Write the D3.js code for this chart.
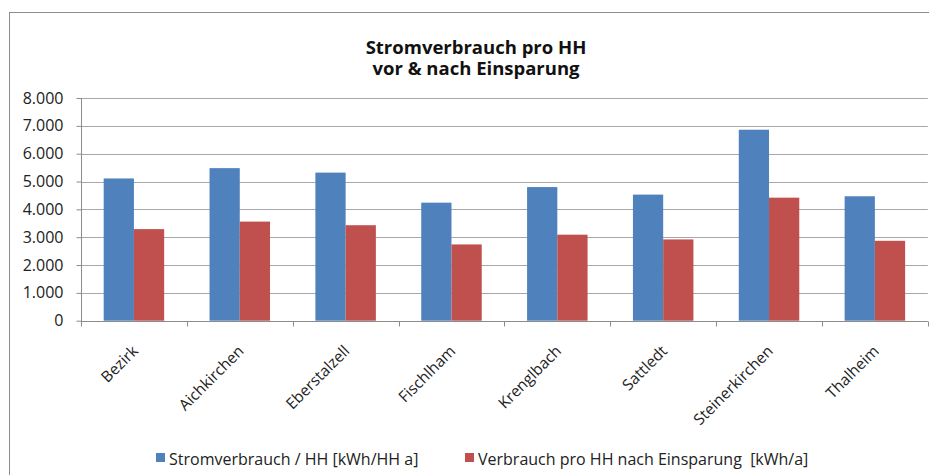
<!DOCTYPE html>
<html>
<head>
<meta charset="utf-8">
<script src="https://cdn.jsdelivr.net/npm/d3@7"></script>
<style>
  body { margin: 0; background: #fff; }
  svg { display: block; font-family: "Open Sans", sans-serif; }
</style>
</head>
<body>
<svg id="chart" width="929" height="475"></svg>
<script>
const categories = ["Bezirk", "Aichkirchen", "Eberstalzell", "Fischlham", "Krenglbach", "Sattledt", "Steinerkirchen", "Thalheim"];
const seriesNames = ["Stromverbrauch / HH [kWh/HH a]", "Verbrauch pro HH nach Einsparung  [kWh/a]"];
const vorher = [5110, 5480, 5320, 4240, 4800, 4530, 6860, 4470];
const nachher = [3290, 3560, 3430, 2740, 3090, 2920, 4420, 2870];
const yTicks = [0, 1000, 2000, 3000, 4000, 5000, 6000, 7000, 8000];
const titleLines = ["Stromverbrauch pro HH", "vor & nach Einsparung"];
const colors = ["#4f81bd", "#c0504d"];

const svg = d3.select("#chart");
const margin = { top: 98, left: 81, bottom: 320.7, right: 927.8 };

const locale = d3.formatLocale({ decimal: ",", thousands: ".", grouping: [3], currency: ["", " €"] });
const fmt = locale.format(",");

// chart border
svg.append("rect")
  .attr("x", 9.5).attr("y", 12.5)
  .attr("width", 940).attr("height", 480)
  .attr("fill", "#fff").attr("stroke", "#8c8c8c");

const x = d3.scaleBand().domain(categories).range([margin.left, margin.right]).padding(0);
const y = d3.scaleLinear().domain([0, 8000]).range([margin.bottom, margin.top]);
const barW = x.bandwidth() / 3.5;
const x1 = d3.scaleBand().domain([0, 1]).range([0, barW * 2]).padding(0);

// gridlines
svg.append("g")
  .selectAll("line")
  .data(yTicks.filter((d) => d > 0))
  .join("line")
  .attr("x1", margin.left).attr("x2", margin.right)
  .attr("y1", (d) => Math.round(y(d)) + 0.5).attr("y2", (d) => Math.round(y(d)) + 0.5)
  .attr("stroke", "#a8a8a8");

// bars
const groups = svg.append("g")
  .selectAll("g")
  .data(categories)
  .join("g")
  .attr("transform", (d) => `translate(${x(d) + (x.bandwidth() - barW * 2) / 2},0)`);

groups.selectAll("rect")
  .data((d, i) => [vorher[i], nachher[i]])
  .join("rect")
  .attr("x", (d, j) => x1(j))
  .attr("width", x1.bandwidth())
  .attr("y", (d) => y(d))
  .attr("height", (d) => y(0) - y(d))
  .attr("fill", (d, j) => colors[j]);

// y axis
const yAxis = svg.append("g")
  .attr("transform", `translate(${margin.left + 0.5},0)`)
  .call(d3.axisLeft(y).tickValues(yTicks).tickFormat(fmt).tickSize(5).tickPadding(13));
yAxis.select(".domain").attr("stroke", "#8c8c8c").attr("d", `M0,${margin.top}V${y(0) + 5}`);
yAxis.selectAll(".tick line").attr("stroke", "#8c8c8c");
yAxis.selectAll(".tick text").attr("font-size", 16).attr("fill", "#222")
  .attr("font-family", "Open Sans, sans-serif");

// x axis
const xAxis = svg.append("g")
  .attr("transform", `translate(0,${Math.round(y(0)) + 0.5})`);
xAxis.append("line")
  .attr("x1", margin.left).attr("x2", margin.right)
  .attr("stroke", "#8c8c8c");
xAxis.selectAll(".sep")
  .data(categories.concat(["end"]))
  .join("line")
  .attr("class", "sep")
  .attr("x1", (d, i) => Math.round(margin.left + i * x.bandwidth()) + 0.5)
  .attr("x2", (d, i) => Math.round(margin.left + i * x.bandwidth()) + 0.5)
  .attr("y1", 0).attr("y2", 5)
  .attr("stroke", "#8c8c8c");

svg.append("g")
  .selectAll("text")
  .data(categories)
  .join("text")
  .attr("transform", (d) => `translate(${x(d) + x.bandwidth() / 2 + 5},352) rotate(-45)`)
  .attr("text-anchor", "end")
  .attr("font-size", 15.5)
  .attr("fill", "#222")
  .text((d) => d);

// title: one text, two lines
svg.append("text")
  .attr("text-anchor", "middle")
  .attr("font-size", 18.5)
  .attr("font-weight", "bold")
  .attr("fill", "#111")
  .selectAll("tspan")
  .data(titleLines)
  .join("tspan")
  .attr("x", 476)
  .attr("y", (d, i) => 54 + i * 21)
  .text((d) => d);

// legend
const legendX = [156, 465];
const legend = svg.append("g")
  .selectAll("g")
  .data(seriesNames)
  .join("g")
  .attr("transform", (d, i) => `translate(${legendX[i]},453)`);
legend.append("rect")
  .attr("width", 9).attr("height", 9)
  .attr("fill", (d, i) => colors[i]);
legend.append("text")
  .attr("x", 13).attr("y", 12)
  .attr("font-size", 16)
  .attr("fill", "#222")
  .attr("xml:space", "preserve")
  .style("white-space", "pre")
  .text((d) => d);
</script>
</body>
</html>
